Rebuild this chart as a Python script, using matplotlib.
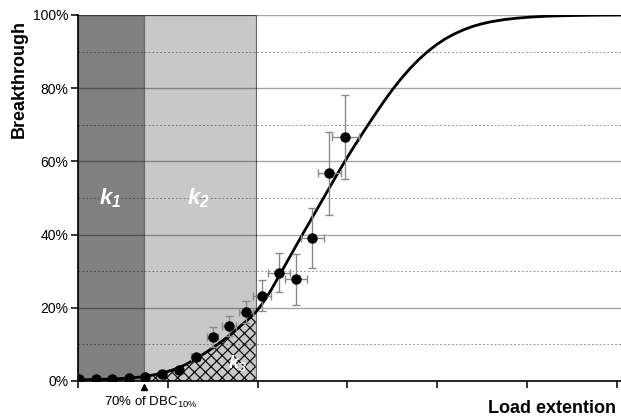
import matplotlib
matplotlib.use('Agg')  # sin display
import matplotlib.pyplot as plt
from matplotlib.transforms import blended_transform_factory

plt.rcParams['font.family'] = ['Liberation Sans', 'DejaVu Sans']
plt.rcParams['mathtext.fontset'] = 'custom'
plt.rcParams['mathtext.it'] = 'Liberation Sans:italic:bold'
plt.rcParams['mathtext.rm'] = 'Liberation Sans:italic:bold'
plt.rcParams['hatch.linewidth'] = 0.9

# regiones (en unidades del eje x)
k1_end = 0.735
k2_end = 1.98

# curva ajustada
curve_x = [0.0, 0.2, 0.4, 0.6, 0.735, 0.85, 1.0, 1.1, 1.2, 1.3, 1.4, 1.5, 1.6, 1.7,
           1.8, 1.9, 1.98, 2.05, 2.15, 2.3, 2.5, 2.7, 2.9, 3.0, 3.1, 3.2, 3.3, 3.4,
           3.5, 3.6, 3.7, 3.8, 3.9, 4.0, 4.1, 4.2, 4.3, 4.4, 4.5, 4.6, 4.75, 4.9,
           5.05, 5.25, 5.5, 5.75, 6.05]
curve_y = [0.3, 0.4, 0.55, 0.85, 1.2, 1.7, 2.6, 3.4, 4.5, 5.9, 7.4, 9.0, 10.8, 12.7,
           14.8, 16.9, 18.8, 21.0, 24.8, 31.3, 40.0, 48.5, 57.0, 61.1, 65.0, 68.8, 72.5, 76.1,
           79.5, 82.6, 85.4, 87.9, 90.1, 92.0, 93.6, 94.9, 96.0, 96.9, 97.6, 98.15, 98.75, 99.15,
           99.45, 99.7, 99.85, 99.95, 100.0]

# puntos medidos
pts_x = [0.01, 0.20, 0.38, 0.57, 0.75, 0.94, 1.13, 1.31, 1.50, 1.68, 1.87, 2.05,
         2.24, 2.43, 2.61, 2.80, 2.98]
pts_y = [0.6, 0.6, 0.6, 0.9, 1.2, 1.9, 3.0, 6.5, 12.1, 15.0, 18.9, 23.3,
         29.6, 27.8, 39.1, 56.7, 66.7]
pts_yerr = [0, 0, 0, 0, 0, 0, 0, 0, 2.7, 2.7, 3.0, 4.2, 5.4, 7.0, 8.3, 11.3, 11.5]
pts_xerr = [0, 0, 0, 0, 0, 0, 0, 0.05, 0.065, 0.075, 0.08, 0.10, 0.12, 0.12, 0.13, 0.13, 0.15]

y_ticks = [0, 20, 40, 60, 80, 100]
y_minor = [10, 30, 50, 70, 90]

fig = plt.figure(figsize=(6.21, 4.16), dpi=100)
ax = fig.add_axes([78/621, 35/416, 543/621, 366/416])
ax.set_xlim(0, 6.05)
ax.set_ylim(0, 100)

ax.axvspan(0, k1_end, facecolor='#808080', edgecolor='#555555', lw=0.8, zorder=0.2)
ax.axvspan(k1_end, k2_end, facecolor='#c8c8c8', edgecolor='#666666', lw=0.8, zorder=0.2)

# zona k3 rayada bajo la curva
mask = [(k1_end <= x <= k2_end) for x in curve_x]
ax.fill_between(curve_x, 0, curve_y, where=mask, facecolor='none', hatch='xxx',
                edgecolor='#111111', linewidth=0, zorder=0.3)

for v in y_ticks[1:]:
    ax.axhline(v, color='black', alpha=0.35, lw=1, zorder=0.5)
for v in y_minor:
    ax.axhline(v, color='black', alpha=0.4, lw=0.7, ls=(0, (2, 2)), zorder=0.5)

ax.plot(curve_x, curve_y, color='black', lw=2, zorder=3)

idx = [i for i in range(len(pts_x)) if pts_yerr[i] > 0 or pts_xerr[i] > 0]
ax.errorbar([pts_x[i] for i in idx], [pts_y[i] for i in idx],
            yerr=[pts_yerr[i] for i in idx], xerr=[pts_xerr[i] for i in idx],
            fmt='none', ecolor='#8a8a8a', elinewidth=1, capsize=3, zorder=4)
ax.plot(pts_x, pts_y, 'o', color='black', ms=6.5, zorder=5)

for s in ['top', 'right']:
    ax.spines[s].set_visible(False)
for s in ['left', 'bottom']:
    ax.spines[s].set_linewidth(1.2)
    ax.spines[s].set_zorder(6)

ax.set_xticks(range(7))
ax.set_xticklabels([])
ax.set_yticks(y_ticks)
ax.set_yticklabels([f'{v}%' for v in y_ticks])
ax.tick_params(axis='both', direction='out', length=5, width=1.1, labelsize=10, pad=2)

ax.text(0.36, 50, r'$k_1$', color='white', fontsize=16, ha='center', va='center', zorder=6)
ax.text(1.34, 50, r'$k_2$', color='white', fontsize=16, ha='center', va='center', zorder=6)
ax.text(1.78, 5, r'$k_3$', color='white', fontsize=13, ha='center', va='center', zorder=6)

trans = blended_transform_factory(ax.transData, ax.transAxes)
ax.plot([k1_end], [-0.017], marker='^', color='black', ms=5, transform=trans, clip_on=False)

fig.text(151/621, 1 - 402/416, r'70% of DBC$_{\mathregular{10\%}}$', ha='center', va='center',
         fontsize=9.5)
fig.text(19/621, 1 - 20/416, 'Breakthrough', rotation=90, ha='center', va='top',
         fontweight='bold', fontsize=13)
fig.text(616/621, 1 - 413/416, 'Load extention', ha='right', va='baseline',
         fontweight='bold', fontsize=13)

fig.savefig('out.png', dpi=100)
